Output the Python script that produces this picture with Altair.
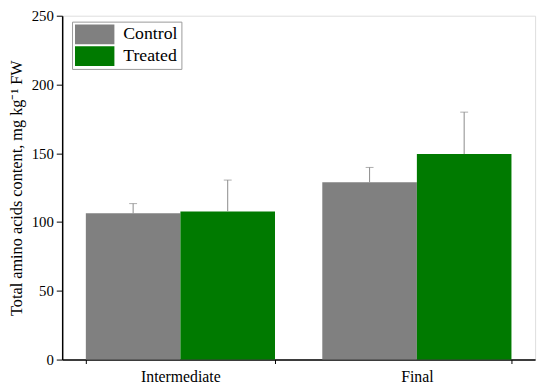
import altair as alt
import pandas as pd

periods = ["Intermediate", "Intermediate", "Final", "Final"]
groups = ["Control", "Treated", "Control", "Treated"]
means = [106.3, 107.7, 129.0, 149.4]
sds = [7.1, 22.8, 10.7, 30.5]
y_ticks = [0, 25, 50, 75, 100, 125, 150, 175, 200, 225, 250]

df = pd.DataFrame({"period": periods, "group": groups, "mean": means, "sd": sds})
df["upper"] = df["mean"] + df["sd"]

FONT = "Liberation Serif"
x_enc = alt.X("period:N", sort=["Intermediate", "Final"], title=None,
              scale=alt.Scale(paddingInner=0.2, paddingOuter=0.1),
              axis=alt.Axis(labelAngle=0, tickBand="extent", labelFontSize=16, labelFont=FONT,
                            labelColor="black", labelPadding=5, tickColor="black", tickSize=4,
                            domainColor="black", domainWidth=1.5))
xo = alt.XOffset("group:N", sort=["Control", "Treated"], scale=alt.Scale(paddingInner=0, paddingOuter=0))
color = alt.Color("group:N", sort=["Control", "Treated"],
                  scale=alt.Scale(domain=["Control", "Treated"], range=["#808080", "#007a00"]),
                  legend=alt.Legend(title=None, orient="none", legendX=10, legendY=6,
                                    symbolType="M-2,-1H2V1H-2Z", symbolSize=400, symbolStrokeWidth=0,
                                    symbolOpacity=1, symbolOffset=10,
                                    labelFont=FONT, labelFontSize=18, labelColor="black", labelOffset=19,
                                    rowPadding=2, padding=3, strokeColor="#999999", fillColor="white",
                                    cornerRadius=0))

bars = alt.Chart(df).mark_bar(opacity=1).encode(
    x=x_enc, xOffset=xo,
    y=alt.Y("mean:Q", title="Total amino acids content, mg kg⁻¹ FW",
            scale=alt.Scale(domain=[0, 250], nice=False),
            axis=alt.Axis(values=y_ticks, labelExpr="datum.value % 50 == 0 ? datum.label : ''",
                          tickSize={"condition": {"test": "datum.value % 50 == 0", "value": 6}, "value": 4},
                          labelFont=FONT, labelFontSize=15, labelColor="black", labelPadding=3,
                          titleFont=FONT, titleFontSize=16.5, titleFontWeight="normal", titleColor="black",
                          titlePadding=7, tickColor="black", domainColor="black", domainWidth=1.5,
                          grid=False)),
    color=color,
)

rules = alt.Chart(df).mark_rule(color="#8a8a8a", strokeWidth=1).encode(
    x=alt.X("period:N", sort=["Intermediate", "Final"]), xOffset=xo,
    y="mean:Q", y2="upper:Q",
)
caps = alt.Chart(df).mark_tick(color="#8a8a8a", size=8, thickness=1).encode(
    x=alt.X("period:N", sort=["Intermediate", "Final"]), xOffset=xo,
    y="upper:Q",
)

chart = alt.layer(bars, rules, caps).properties(
    width=480, height=349,
    autosize=alt.AutoSizeParams(type="none"),
    padding={"left": 55, "top": 5, "right": 7, "bottom": 25},
).configure_view(stroke="black", strokeWidth=1.5).configure(background="white")

chart.save("out.html", embed_options={"renderer": "svg", "actions": False})
